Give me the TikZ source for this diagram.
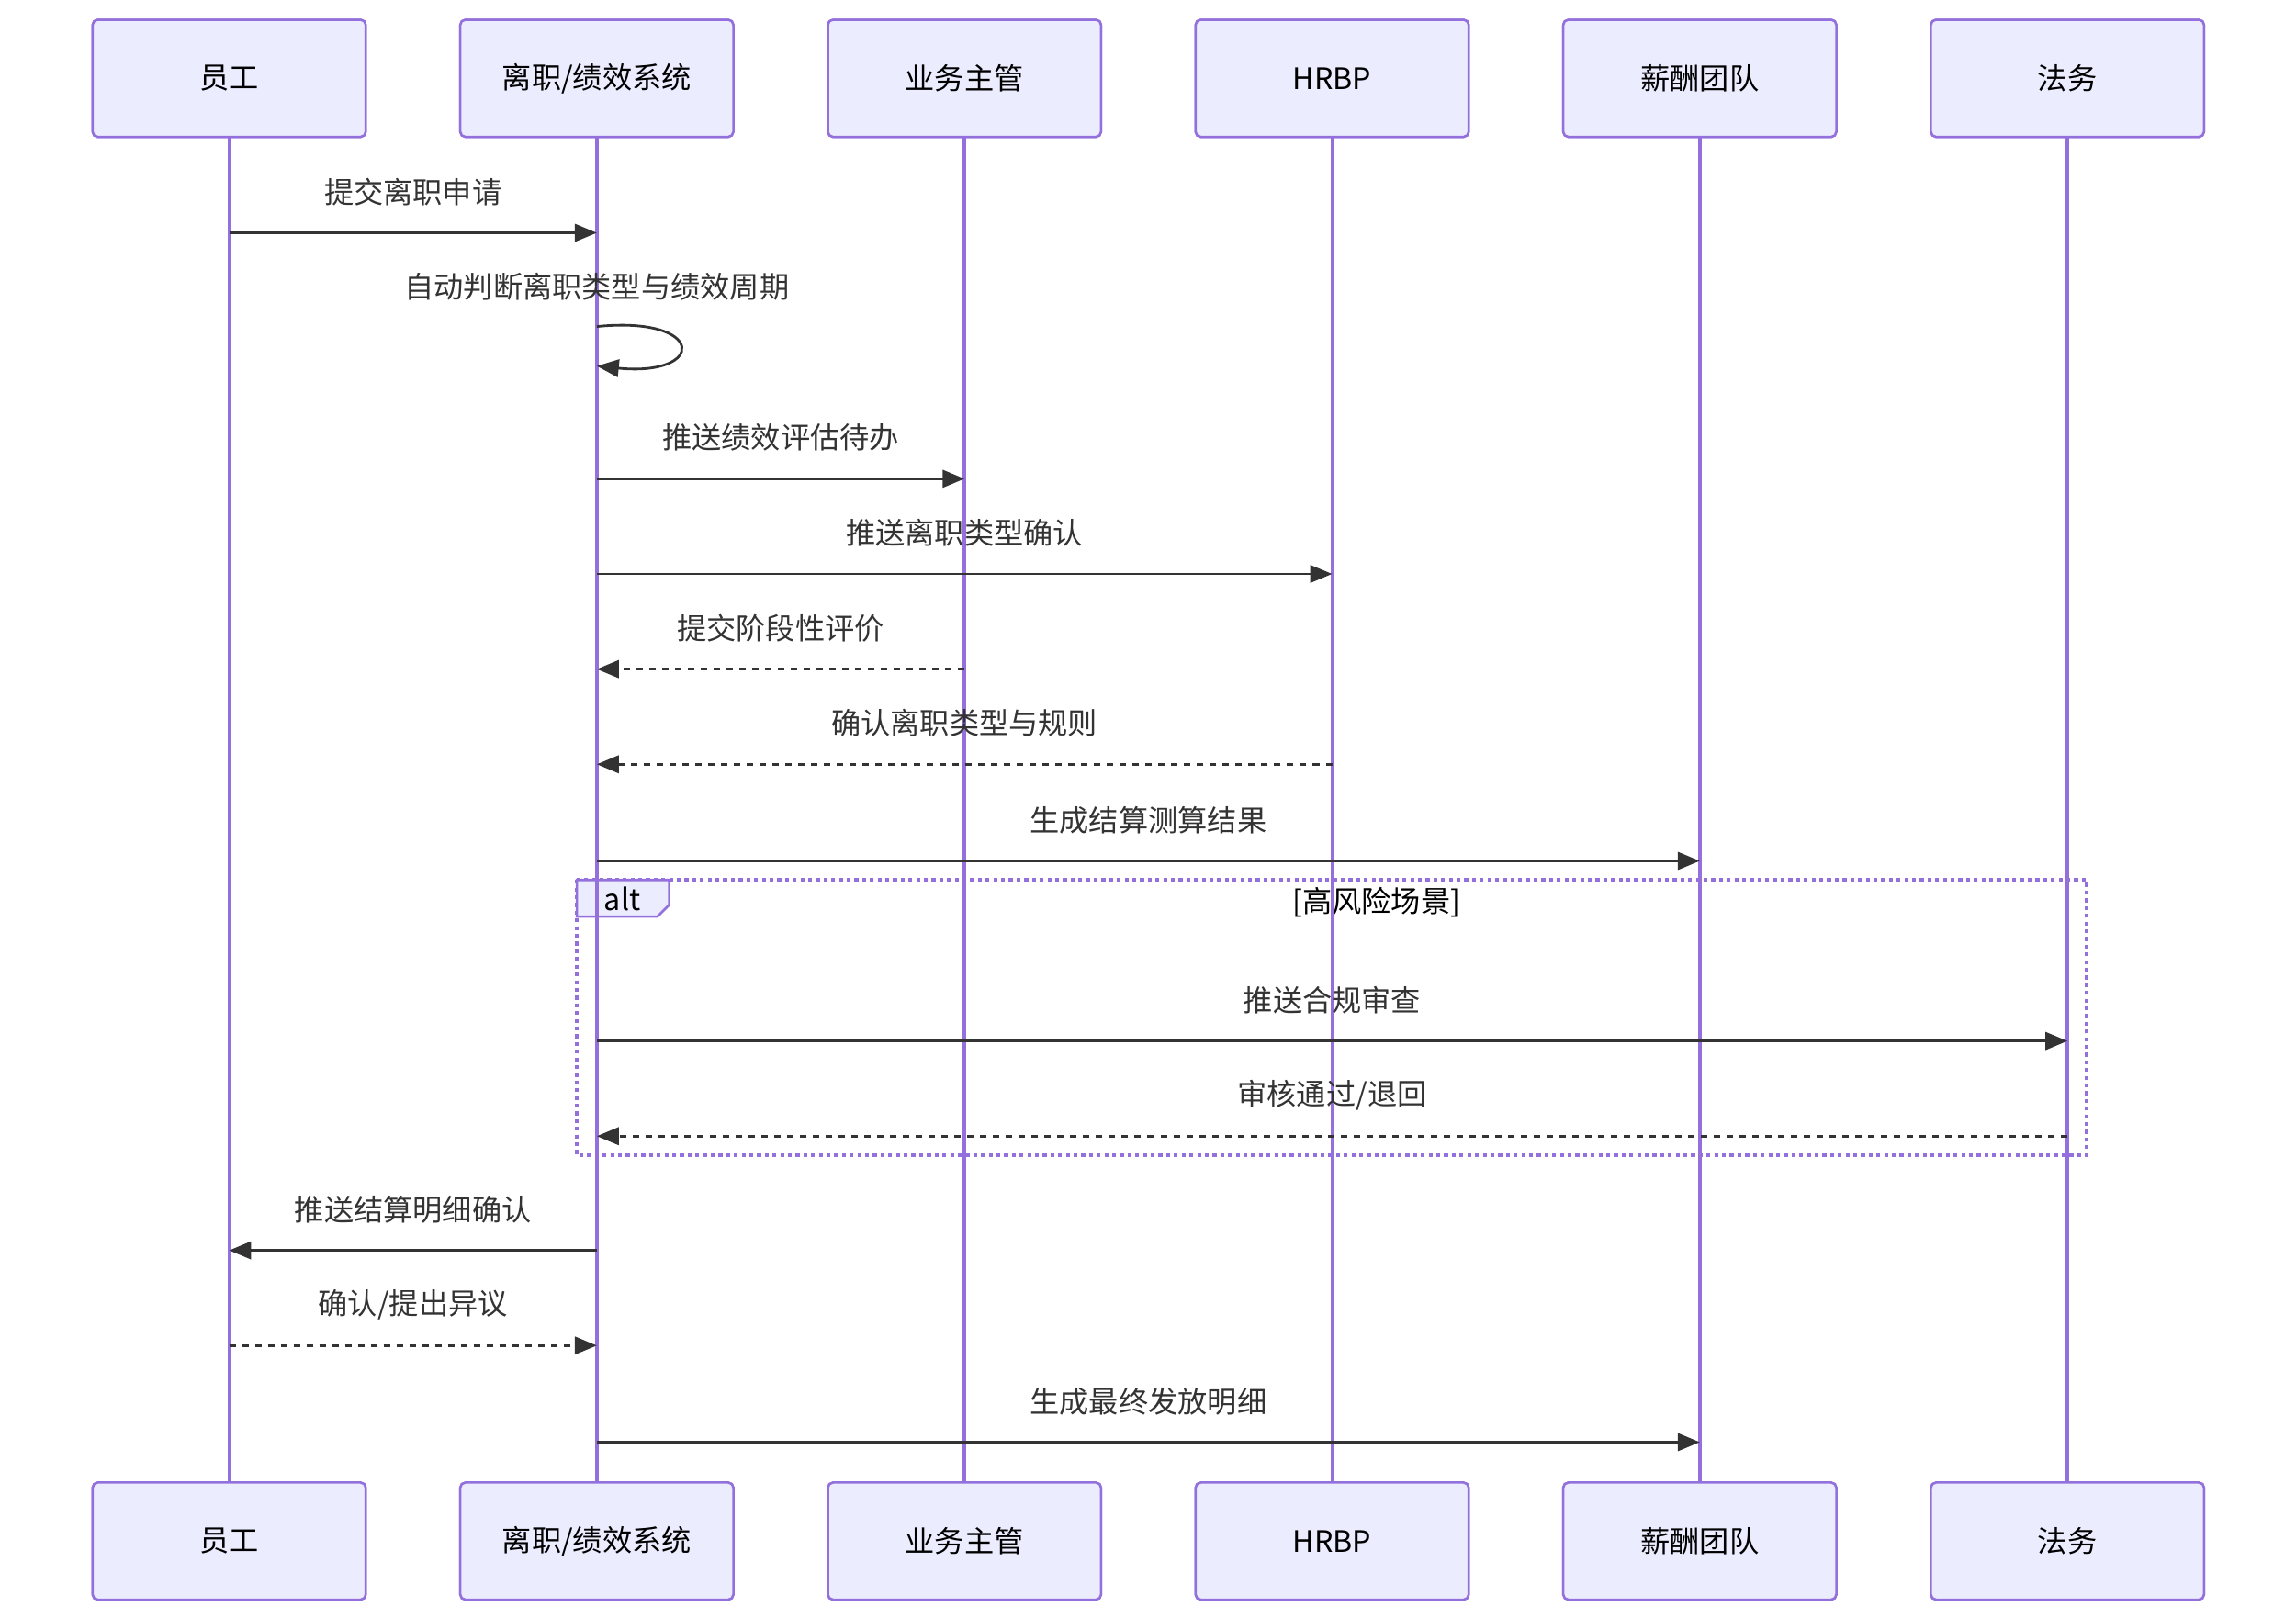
\documentclass[tikz,border=0pt]{standalone}
\usepackage{fontspec}
\setmainfont{Noto Sans CJK SC}
\usetikzlibrary{arrows.meta, positioning, calc}
\definecolor{lanepurple}{HTML}{9370DB}
\definecolor{actorfill}{HTML}{ECECFF}
\definecolor{msggray}{HTML}{333333}
\tikzset{
  actor/.style={rectangle, draw=lanepurple, fill=actorfill, rounded corners=2pt,
    line width=0.9pt, minimum width=3.73cm, minimum height=1.6cm, align=center,
    font=\fontsize{11.5pt}{14pt}\selectfont, inner sep=0pt},
  lifeline/.style={draw=lanepurple, line width=1.4pt},
  msg/.style={-{Triangle[length=0.3cm, width=0.24cm]}, draw=msggray, line width=1pt},
  reply/.style={msg, dash pattern=on 2.5pt off 2.5pt},
  msglabel/.style={font=\fontsize{11.5pt}{14pt}\selectfont, text=msggray, inner sep=0pt},
  altframe/.style={draw=lanepurple, line width=1.5pt, dash pattern=on 1.5pt off 1.5pt},
}

\begin{document}
\begin{tikzpicture}
  \useasboundingbox (0,0) rectangle (31.36,-22.1);

  % participants
  \node[actor] (yg) at (3.13,-1.07) {员工};
  \node[actor, right=1.26cm of yg] (xt) {离职/绩效系统};
  \node[actor, right=1.26cm of xt] (zg) {业务主管};
  \node[actor, right=1.26cm of zg] (hrbp) {HRBP};
  \node[actor, right=1.26cm of hrbp] (xc) {薪酬团队};
  \node[actor, right=1.26cm of xc] (fw) {法务};

  \node[actor, below=18.35cm of yg] (yg2) {员工};
  \node[actor, below=18.35cm of xt] (xt2) {离职/绩效系统};
  \node[actor, below=18.35cm of zg] (zg2) {业务主管};
  \node[actor, below=18.35cm of hrbp] (hrbp2) {HRBP};
  \node[actor, below=18.35cm of xc] (xc2) {薪酬团队};
  \node[actor, below=18.35cm of fw] (fw2) {法务};

  % alt frame
  \coordinate (altnw) at (7.88,-12.02);
  \coordinate (altse) at (28.5,-15.78);
  \draw[altframe] (altnw) rectangle (altse);
  \draw[draw=lanepurple, fill=actorfill, line width=0.9pt] (altnw) -- ++(1.26,0) -- ++(0,-0.34)
    -- ++(-0.16,-0.16) -- ++(-1.1,0) -- cycle;
  \node[msglabel, text=black] (alttag) at (8.5,-12.28) {alt};
  \node[msglabel, text=black] (altcond) at (18.8,-12.32) {[高风险场景]};

  % lifelines
  \draw[lifeline] (yg) -- (yg2);
  \draw[lifeline] (xt) -- (xt2);
  \draw[lifeline] (zg) -- (zg2);
  \draw[lifeline] (hrbp) -- (hrbp2);
  \draw[lifeline] (xc) -- (xc2);
  \draw[lifeline] (fw) -- (fw2);
  \node[actor] at (yg) {员工};
  \node[actor] at (xt) {离职/绩效系统};
  \node[actor] at (zg) {业务主管};
  \node[actor] at (hrbp) {HRBP};
  \node[actor] at (xc) {薪酬团队};
  \node[actor] at (fw) {法务};
  \node[actor] at (yg2) {员工};
  \node[actor] at (xt2) {离职/绩效系统};
  \node[actor] at (zg2) {业务主管};
  \node[actor] at (hrbp2) {HRBP};
  \node[actor] at (xc2) {薪酬团队};
  \node[actor] at (fw2) {法务};

  % message rows
  \coordinate (r1) at (0,-3.18);
  \coordinate (s1) at (0,-4.46);
  \coordinate (s2) at (0,-5.0);
  \coordinate (r3) at (0,-6.54);
  \coordinate (r4) at (0,-7.84);
  \coordinate (r5) at (0,-9.14);
  \coordinate (r6) at (0,-10.44);
  \coordinate (r7) at (0,-11.76);
  \coordinate (r8) at (0,-14.22);
  \coordinate (r9) at (0,-15.52);
  \coordinate (r10) at (0,-17.08);
  \coordinate (r11) at (0,-18.38);
  \coordinate (r12) at (0,-19.70);

  \draw[msg] (yg |- r1) -- node[msglabel, yshift=0.56cm] {提交离职申请} (xt |- r1);
  \node[msglabel] (selflbl) at ($(xt |- s1)+(0,0.54)$) {自动判断离职类型与绩效周期};
  \draw[msg] (xt |- s1) .. controls +(1.5,0.15) and +(1.5,-0.15) .. (xt |- s2);
  \draw[msg] (xt |- r3) -- node[msglabel, yshift=0.56cm] {推送绩效评估待办} (zg |- r3);
  \draw[msg] (xt |- r4) -- node[msglabel, yshift=0.56cm] {推送离职类型确认} (hrbp |- r4);
  \draw[reply] (zg |- r5) -- node[msglabel, yshift=0.56cm] {提交阶段性评价} (xt |- r5);
  \draw[reply] (hrbp |- r6) -- node[msglabel, yshift=0.56cm] {确认离职类型与规则} (xt |- r6);
  \draw[msg] (xt |- r7) -- node[msglabel, yshift=0.56cm] {生成结算测算结果} (xc |- r7);
  \draw[msg] (xt |- r8) -- node[msglabel, yshift=0.56cm] {推送合规审查} (fw |- r8);
  \draw[reply] (fw |- r9) -- node[msglabel, yshift=0.56cm] {审核通过/退回} (xt |- r9);
  \draw[msg] (xt |- r10) -- node[msglabel, yshift=0.56cm] {推送结算明细确认} (yg |- r10);
  \draw[reply] (yg |- r11) -- node[msglabel, yshift=0.56cm] {确认/提出异议} (xt |- r11);
  \draw[msg] (xt |- r12) -- node[msglabel, yshift=0.56cm] {生成最终发放明细} (xc |- r12);
\end{tikzpicture}
\end{document}
